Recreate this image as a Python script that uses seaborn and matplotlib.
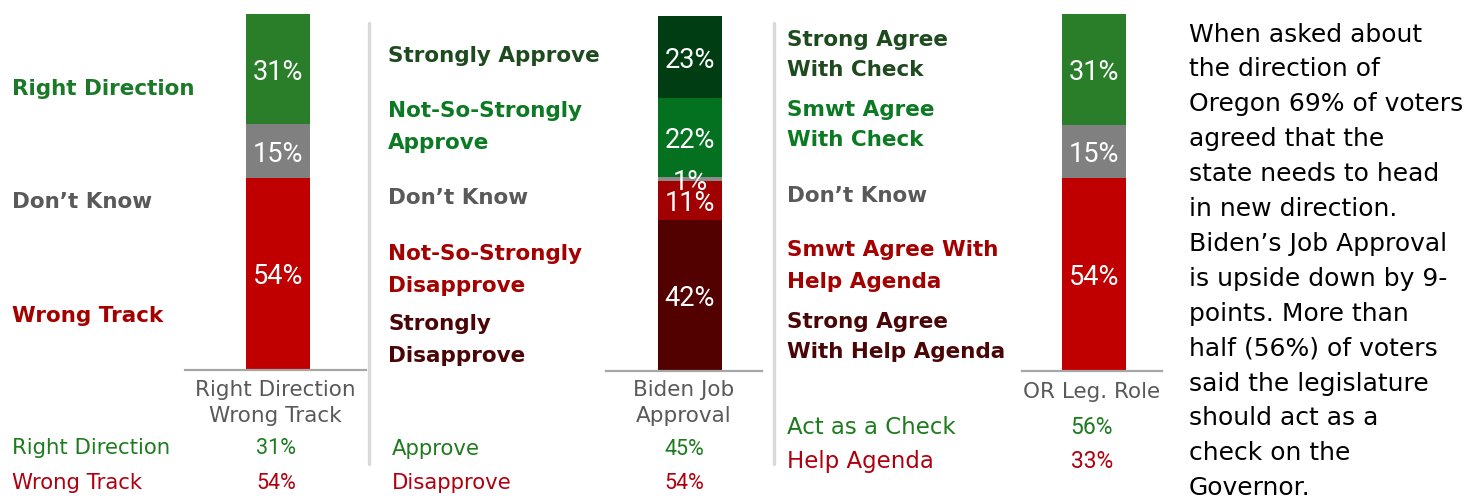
import numpy as np
import pandas as pd
import matplotlib
matplotlib.use('Agg')
import matplotlib.pyplot as plt
from matplotlib.lines import Line2D
import seaborn as sns

# ---- data (top to bottom within each bar) ----
dir_cats = ['Right Direction', 'Don\u2019t Know', 'Wrong Track']
dir_vals = [31, 15, 54]
dir_colors = ['#2A7E2A', '#808080', '#C00000']
dir_label_colors = ['#1B7A28', '#595959', '#A50000']

biden_cats = ['Strongly Approve', 'Not-So-Strongly\nApprove', 'Don\u2019t Know',
              'Not-So-Strongly\nDisapprove', 'Strongly\nDisapprove']
biden_vals = [23, 22, 1, 11, 42]
biden_colors = ['#003D12', '#03711F', '#8C8C8C', '#A00000', '#520000']
biden_label_colors = ['#1F4A1F', '#0B7A22', '#595959', '#A50000', '#4A0606']

leg_cats = ['Strong Agree\nWith Check', 'Smwt Agree\nWith Check', 'Don\u2019t Know',
            'Smwt Agree With\nHelp Agenda', 'Strong Agree\nWith Help Agenda']
leg_vals = [31, 15, 54]
leg_colors = ['#2A7E2A', '#808080', '#C00000']
leg_label_colors = ['#1F4A1F', '#0B7A22', '#595959', '#A50000', '#4A0606']

bar_titles = ['Right Direction\nWrong Track', 'Biden Job\nApproval', 'OR Leg. Role']

summary_dir = [('Right Direction', '31%'), ('Wrong Track', '54%')]
summary_biden = [('Approve', '45%'), ('Disapprove', '54%')]
summary_leg = [('Act as a Check', '56%'), ('Help Agenda', '33%')]
summary_colors = ['#1E7B1E', '#B00010']

note = ['When asked about', 'the direction of', 'Oregon 69% of voters',
        'agreed that the', 'state needs to head', 'in new direction.',
        'Biden\u2019s Job Approval', 'is upside down by 9-', 'points. More than',
        'half (56%) of voters', 'said the legislature', 'should act as a',
        'check on the', 'Governor.']

# ---- layout (pixels) ----
W, H = 1468, 500
sns.set_style('white')
plt.rcParams['font.family'] = ['DejaVu Sans']
NUM_FONT = ['Roboto', 'DejaVu Sans']
fig = plt.figure(figsize=(W / 100, H / 100), dpi=100)


def fx(x):
    return x / W


def fy(y):
    return 1 - y / H


def put(x, y, s, **kw):
    fig.text(fx(x), fy(y), s, va='center_baseline', **kw)


def put_lines(x, y, s, gap, **kw):
    lines = s.split('\n')
    for j, line in enumerate(lines):
        put(x, y + (j - (len(lines) - 1) / 2) * gap, line, **kw)


def stacked_bar(left, right, top, bottom, center, vals, colors, title, title_y):
    ax = fig.add_axes([fx(left), fy(bottom), fx(right - left), (bottom - top) / H])
    total = sum(vals)
    base = 0
    for v, c in zip(vals, colors):
        sns.barplot(x=['a'], y=[v], bottom=base, color=c, width=0.8,
                    saturation=1, errorbar=None, linewidth=0, ax=ax)
        base += v
    ax.set_ylim(total, 0)
    ax.set_xlim((left - center) / 80, (right - center) / 80)
    ax.set_xticks([])
    ax.set_yticks([])
    ax.set_xlabel('')
    ax.set_ylabel('')
    for side in ['top', 'left', 'right']:
        ax.spines[side].set_visible(False)
    ax.spines['bottom'].set_color('#A6A6A6')
    ax.spines['bottom'].set_linewidth(1.6)
    ax.patch.set_alpha(0)
    base = 0
    for v in vals:
        ax.text(0, base + v / 2, f'{v}%', ha='center', va='center_baseline',
                color='white', fontsize=19.5, family=NUM_FONT)
        base += v
    put_lines((left + right) / 2, title_y, title, 27, ha='center',
              color='#595959', fontsize=15.5)
    return ax


# bars
stacked_bar(185, 366, 14, 370, 278, dir_vals, dir_colors, bar_titles[0], 401)
stacked_bar(606, 762, 16, 371, 690, biden_vals, biden_colors, bar_titles[1], 401)
stacked_bar(1022, 1162, 14, 371, 1094, leg_vals, leg_colors, bar_titles[2], 389.5)

# category labels beside the bars
LBL = 15.5
for cat, c, y in zip(dir_cats, dir_label_colors, [86.7, 200, 314]):
    put_lines(12, y, cat, 32, color=c, fontsize=LBL, fontweight='bold')
for cat, c, y in zip(biden_cats, biden_label_colors, [54, 125, 196, 268, 338]):
    put_lines(388, y, cat, 32, color=c, fontsize=LBL, fontweight='bold')
for cat, c, y in zip(leg_cats, leg_label_colors, [53, 123, 194, 264, 335]):
    put_lines(787, y, cat, 31, color=c, fontsize=LBL, fontweight='bold')

# summary rows
for (lab, val), c, y in zip(summary_dir, summary_colors, [446.5, 481]):
    put(12, y, lab, color=c, fontsize=15.3)
    put(276, y, val, color=c, fontsize=15.5, ha='center', family=NUM_FONT)
for (lab, val), c, y in zip(summary_biden, summary_colors, [447, 481]):
    put(392, y, lab, color=c, fontsize=15.3)
    put(684, y, val, color=c, fontsize=15.5, ha='center', family=NUM_FONT)
for (lab, val), c, y in zip(summary_leg, summary_colors, [425, 459]):
    put(787, y, lab, color=c, fontsize=16.5)
    put(1092, y, val, color=c, fontsize=16.5, ha='center', family=NUM_FONT)

# separators
for x in [369, 774]:
    fig.add_artist(Line2D([fx(x), fx(x)], [fy(23), fy(464)], color='#D9D9D9', lw=2.4))

# note text
for i, line in enumerate(note):
    put(1189, 32 + 34.9 * i, line, color='black', fontsize=18)

fig.savefig('out.png', dpi=100)
